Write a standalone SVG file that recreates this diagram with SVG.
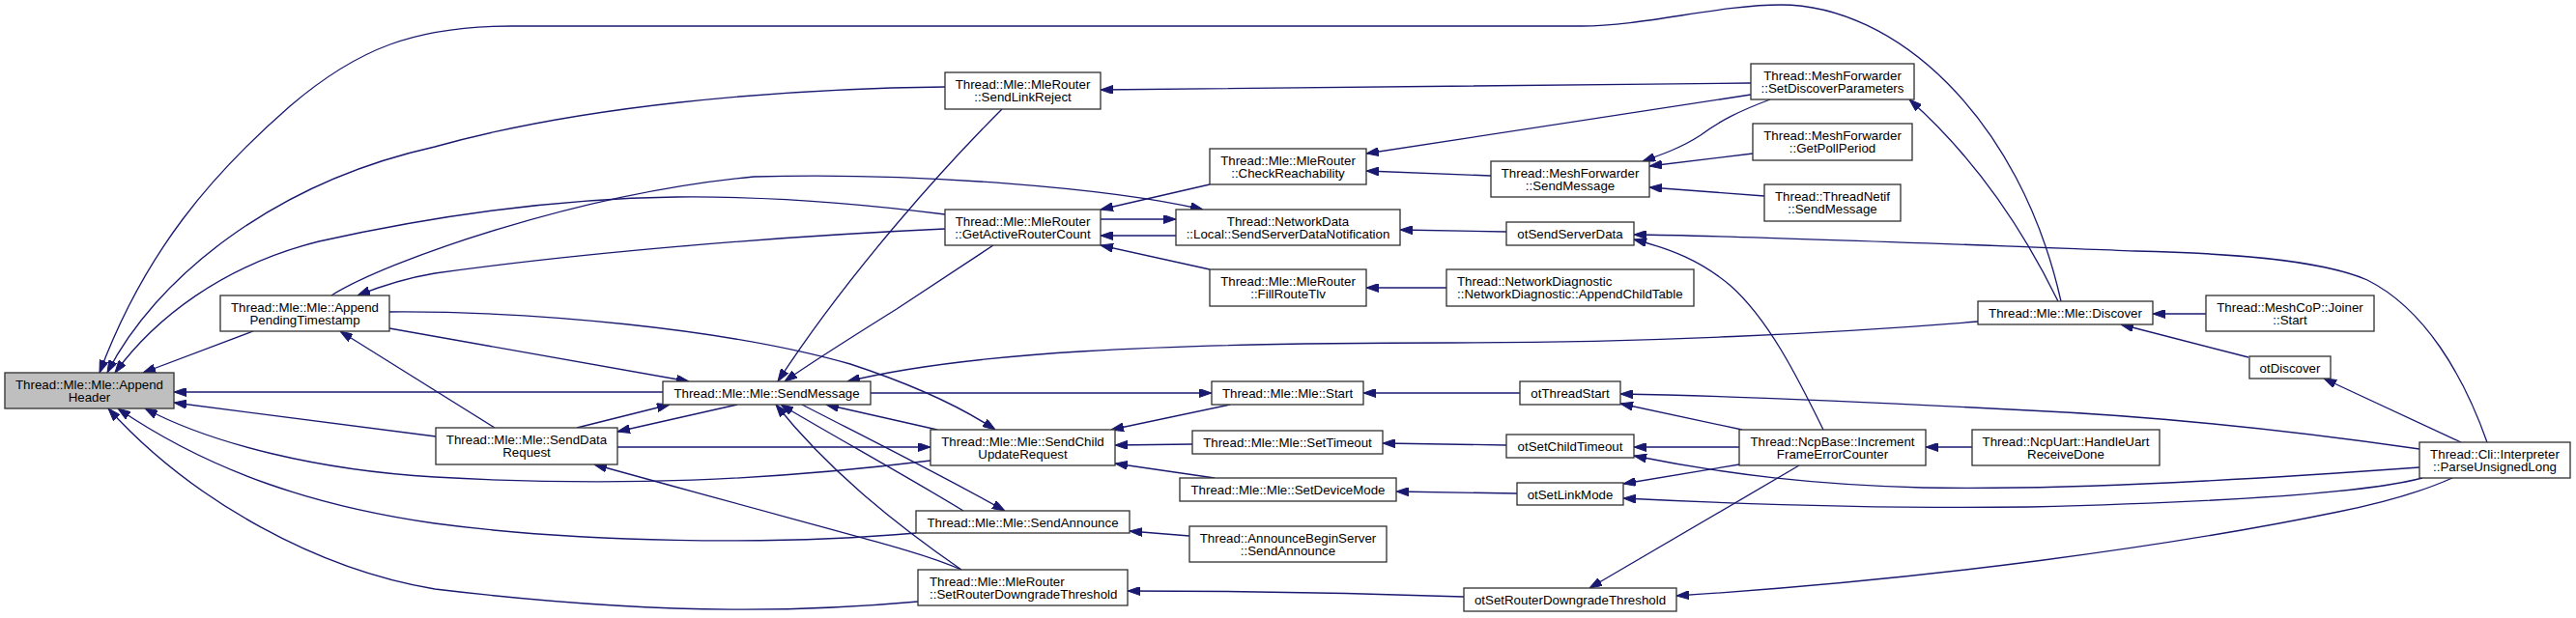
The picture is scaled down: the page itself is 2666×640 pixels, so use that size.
<svg xmlns="http://www.w3.org/2000/svg" width="2666" height="640" viewBox="0 0 2666 640">
<style>
.node rect{fill:#ffffff;stroke:#333333;stroke-width:1.33}
.node.hl rect{fill:#bfbfbf}
.node text{font-family:"Liberation Sans",Arial,Helvetica,sans-serif;font-size:13.3px;fill:#000000;text-anchor:middle}
.node text.l{text-anchor:start}
.edges path{fill:none;stroke:#191970;stroke-width:1.33;marker-end:url(#arr)}
</style>
<defs>
<marker id="arr" viewBox="0 0 13 9" refX="13" refY="4.5" markerWidth="13" markerHeight="9" markerUnits="userSpaceOnUse" orient="auto">
<path d="M0,0 L13,4.5 L0,9 z" fill="#191970" stroke="#191970" stroke-width="1"/>
</marker>
</defs>
<rect width="2666" height="640" fill="#ffffff"/>
<g class="edges">
<path d="M2133,312 C2090,120 1960,5 1843,5 C1780,5 1700,27 1637,27 L530,27 C430,27 370,50 300,110 C220,180 150,260 103,386"/>
<path d="M978,90 C800,92 600,110 450,152 C280,190 160,290 111,386"/>
<path d="M978,222 C900,212 800,203 700,204 C550,206 420,230 330,250 C230,275 160,330 119,386"/>
<path d="M262,343 L148,386"/>
<path d="M686,406 L180,406"/>
<path d="M451,452 L180,417"/>
<path d="M963,477 C800,497 640,505 450,494 C330,487 220,460 150,423"/>
<path d="M948,552 C800,565 600,562 450,542 C330,525 220,490 122,423"/>
<path d="M950,623 C850,632 700,640 450,610 C330,590 200,520 112,423"/>
<path d="M343,306 C400,270 600,200 780,183 C950,178 1150,195 1245,217"/>
<path d="M978,237 C800,245 600,262 450,283 C420,288 395,296 370,306"/>
<path d="M512,443 L352,343"/>
<path d="M403,323 C550,322 750,340 880,377 C950,400 1000,425 1030,445"/>
<path d="M403,340 L713,395"/>
<path d="M1037,113 C980,170 880,280 805,395"/>
<path d="M1028,254 L928,320 C880,350 840,375 812,395"/>
<path d="M2047,333 C1900,345 1700,355 1500,355 C1200,355 1000,365 877,395"/>
<path d="M597,443 L693,419"/>
<path d="M763,419 L639,447"/>
<path d="M970,445 C930,436 890,427 855,419"/>
<path d="M997,529 C950,500 860,450 808,419"/>
<path d="M995,590 C930,545 860,490 803,419"/>
<path d="M830,419 C900,455 980,495 1040,529"/>
<path d="M901,407 L1254,407"/>
<path d="M639,463 L963,463"/>
<path d="M995,590 C950,570 900,560 615,481"/>
<path d="M1812,86 C1600,88 1400,92 1139,93"/>
<path d="M1139,227 L1217,227"/>
<path d="M1217,244 L1139,244"/>
<path d="M1252,191 L1139,217"/>
<path d="M1252,279 L1139,254"/>
<path d="M1812,98 L1414,159"/>
<path d="M1543,182 L1414,177"/>
<path d="M1559,240 L1449,238"/>
<path d="M1497,298 L1414,298"/>
<path d="M1273,419 L1150,445"/>
<path d="M1234,460 L1154,461"/>
<path d="M1257,495 L1154,480"/>
<path d="M1231,555 L1169,550"/>
<path d="M1515,618 C1400,614 1250,612 1167,612"/>
<path d="M1832,103 C1800,115 1780,125 1760,140 C1740,153 1720,160 1700,167"/>
<path d="M1814,159 L1707,172"/>
<path d="M1826,203 L1707,194"/>
<path d="M2574,458 C2550,390 2510,320 2450,290 C2400,268 2300,262 2210,260 C2000,252 1800,244 1691,243"/>
<path d="M1887,445 C1860,390 1830,330 1790,295 C1760,270 1730,258 1691,248"/>
<path d="M1573,407 L1411,407"/>
<path d="M1559,461 L1431,459"/>
<path d="M1570,511 L1445,509"/>
<path d="M2504,465 C2400,450 2250,432 2100,425 C1950,417 1800,410 1677,408"/>
<path d="M1803,445 L1677,418"/>
<path d="M1800,463 L1691,463"/>
<path d="M2504,484 C2350,495 2150,508 1990,505 C1880,502 1790,492 1691,472"/>
<path d="M1800,481 L1680,501"/>
<path d="M2507,495 C2450,510 2300,520 2100,525 C1950,527 1800,522 1680,516"/>
<path d="M1862,482 L1645,609"/>
<path d="M2538,495 C2500,512 2460,522 2420,530 C2250,565 2000,600 1735,617"/>
<path d="M2041,463 L1993,463"/>
<path d="M2283,325 L2228,325"/>
<path d="M2327,370 L2195,336"/>
<path d="M2547,458 L2405,392"/>
<path d="M2130,312 C2090,230 2040,160 1976,103"/>
</g>
<g id="n_ah" class="node hl"><rect x="5" y="386" width="175" height="37"/><text x="92.5" y="403.3">Thread::Mle::Mle::Append</text><text x="92.5" y="416.3">Header</text></g>
<g id="n_apt" class="node"><rect x="228" y="306" width="175" height="37"/><text x="315.5" y="323.3">Thread::Mle::Mle::Append</text><text x="315.5" y="336.3">PendingTimestamp</text></g>
<g id="n_sm" class="node"><rect x="686" y="395" width="215" height="24"/><text x="793.5" y="412.3">Thread::Mle::Mle::SendMessage</text></g>
<g id="n_sdr" class="node"><rect x="451" y="443" width="188" height="38"/><text x="545" y="460.3">Thread::Mle::Mle::SendData</text><text x="545" y="473.3">Request</text></g>
<g id="n_slr" class="node"><rect x="978" y="75" width="161" height="38"/><text x="1058.5" y="92.3">Thread::Mle::MleRouter</text><text x="1058.5" y="105.3">::SendLinkReject</text></g>
<g id="n_garc" class="node"><rect x="978" y="217" width="161" height="37"/><text x="1058.5" y="234.3">Thread::Mle::MleRouter</text><text x="1058.5" y="247.3">::GetActiveRouterCount</text></g>
<g id="n_scur" class="node"><rect x="963" y="445" width="191" height="37"/><text x="1058.5" y="462.3">Thread::Mle::Mle::SendChild</text><text x="1058.5" y="475.3">UpdateRequest</text></g>
<g id="n_sa" class="node"><rect x="948" y="529" width="221" height="23"/><text x="1058.5" y="546">Thread::Mle::Mle::SendAnnounce</text></g>
<g id="n_srdt" class="node"><rect x="950" y="590" width="217" height="37"/><text class="l" x="962" y="607.3">Thread::Mle::MleRouter</text><text class="l" x="962" y="620.3">::SetRouterDowngradeThreshold</text></g>
<g id="n_cr" class="node"><rect x="1252" y="154" width="162" height="37"/><text x="1333" y="171.3">Thread::Mle::MleRouter</text><text x="1333" y="184.3">::CheckReachability</text></g>
<g id="n_nd" class="node"><rect x="1217" y="217" width="232" height="37"/><text x="1333" y="234.3">Thread::NetworkData</text><text x="1333" y="247.3">::Local::SendServerDataNotification</text></g>
<g id="n_frt" class="node"><rect x="1252" y="279" width="162" height="38"/><text x="1333" y="296.3">Thread::Mle::MleRouter</text><text x="1333" y="309.3">::FillRouteTlv</text></g>
<g id="n_start" class="node"><rect x="1254" y="395" width="157" height="24"/><text x="1332.5" y="412.3">Thread::Mle::Mle::Start</text></g>
<g id="n_st" class="node"><rect x="1234" y="446" width="197" height="24"/><text x="1332.5" y="463.3">Thread::Mle::Mle::SetTimeout</text></g>
<g id="n_sdm" class="node"><rect x="1221" y="495" width="224" height="24"/><text x="1333" y="512.3">Thread::Mle::Mle::SetDeviceMode</text></g>
<g id="n_abs" class="node"><rect x="1231" y="545" width="204" height="37"/><text x="1333" y="562.3">Thread::AnnounceBeginServer</text><text x="1333" y="575.3">::SendAnnounce</text></g>
<g id="n_mfsm" class="node"><rect x="1543" y="167" width="164" height="37"/><text x="1625" y="184.3">Thread::MeshForwarder</text><text x="1625" y="197.3">::SendMessage</text></g>
<g id="n_ossd" class="node"><rect x="1559" y="230" width="132" height="24"/><text x="1625" y="247.3">otSendServerData</text></g>
<g id="n_ndiag" class="node"><rect x="1497" y="279" width="256" height="38"/><text class="l" x="1508" y="296.3">Thread::NetworkDiagnostic</text><text class="l" x="1508" y="309.3">::NetworkDiagnostic::AppendChildTable</text></g>
<g id="n_ots" class="node"><rect x="1573" y="395" width="104" height="24"/><text x="1625" y="412.3">otThreadStart</text></g>
<g id="n_osct" class="node"><rect x="1559" y="450" width="132" height="24"/><text x="1625" y="467.3">otSetChildTimeout</text></g>
<g id="n_oslm" class="node"><rect x="1570" y="500" width="110" height="23"/><text x="1625" y="517">otSetLinkMode</text></g>
<g id="n_osrdt" class="node"><rect x="1515" y="609" width="220" height="24"/><text x="1625" y="626.3">otSetRouterDowngradeThreshold</text></g>
<g id="n_sdp" class="node"><rect x="1812" y="66" width="169" height="37"/><text x="1896.5" y="83.3">Thread::MeshForwarder</text><text x="1896.5" y="96.3">::SetDiscoverParameters</text></g>
<g id="n_gpp" class="node"><rect x="1814" y="128" width="165" height="38"/><text x="1896.5" y="145.3">Thread::MeshForwarder</text><text x="1896.5" y="158.3">::GetPollPeriod</text></g>
<g id="n_tn" class="node"><rect x="1826" y="191" width="141" height="38"/><text x="1896.5" y="208.3">Thread::ThreadNetif</text><text x="1896.5" y="221.3">::SendMessage</text></g>
<g id="n_disc" class="node"><rect x="2047" y="312" width="181" height="24"/><text x="2137.5" y="329.3">Thread::Mle::Mle::Discover</text></g>
<g id="n_ifec" class="node"><rect x="1800" y="445" width="193" height="37"/><text x="1896.5" y="462.3">Thread::NcpBase::Increment</text><text x="1896.5" y="475.3">FrameErrorCounter</text></g>
<g id="n_hu" class="node"><rect x="2041" y="445" width="194" height="37"/><text x="2138" y="462.3">Thread::NcpUart::HandleUart</text><text x="2138" y="475.3">ReceiveDone</text></g>
<g id="n_joiner" class="node"><rect x="2283" y="306" width="174" height="37"/><text x="2370" y="323.3">Thread::MeshCoP::Joiner</text><text x="2370" y="336.3">::Start</text></g>
<g id="n_otd" class="node"><rect x="2328" y="369" width="84" height="23"/><text x="2370" y="386">otDiscover</text></g>
<g id="n_pul" class="node"><rect x="2504" y="458" width="156" height="37"/><text x="2582" y="475.3">Thread::Cli::Interpreter</text><text x="2582" y="488.3">::ParseUnsignedLong</text></g>
</svg>
